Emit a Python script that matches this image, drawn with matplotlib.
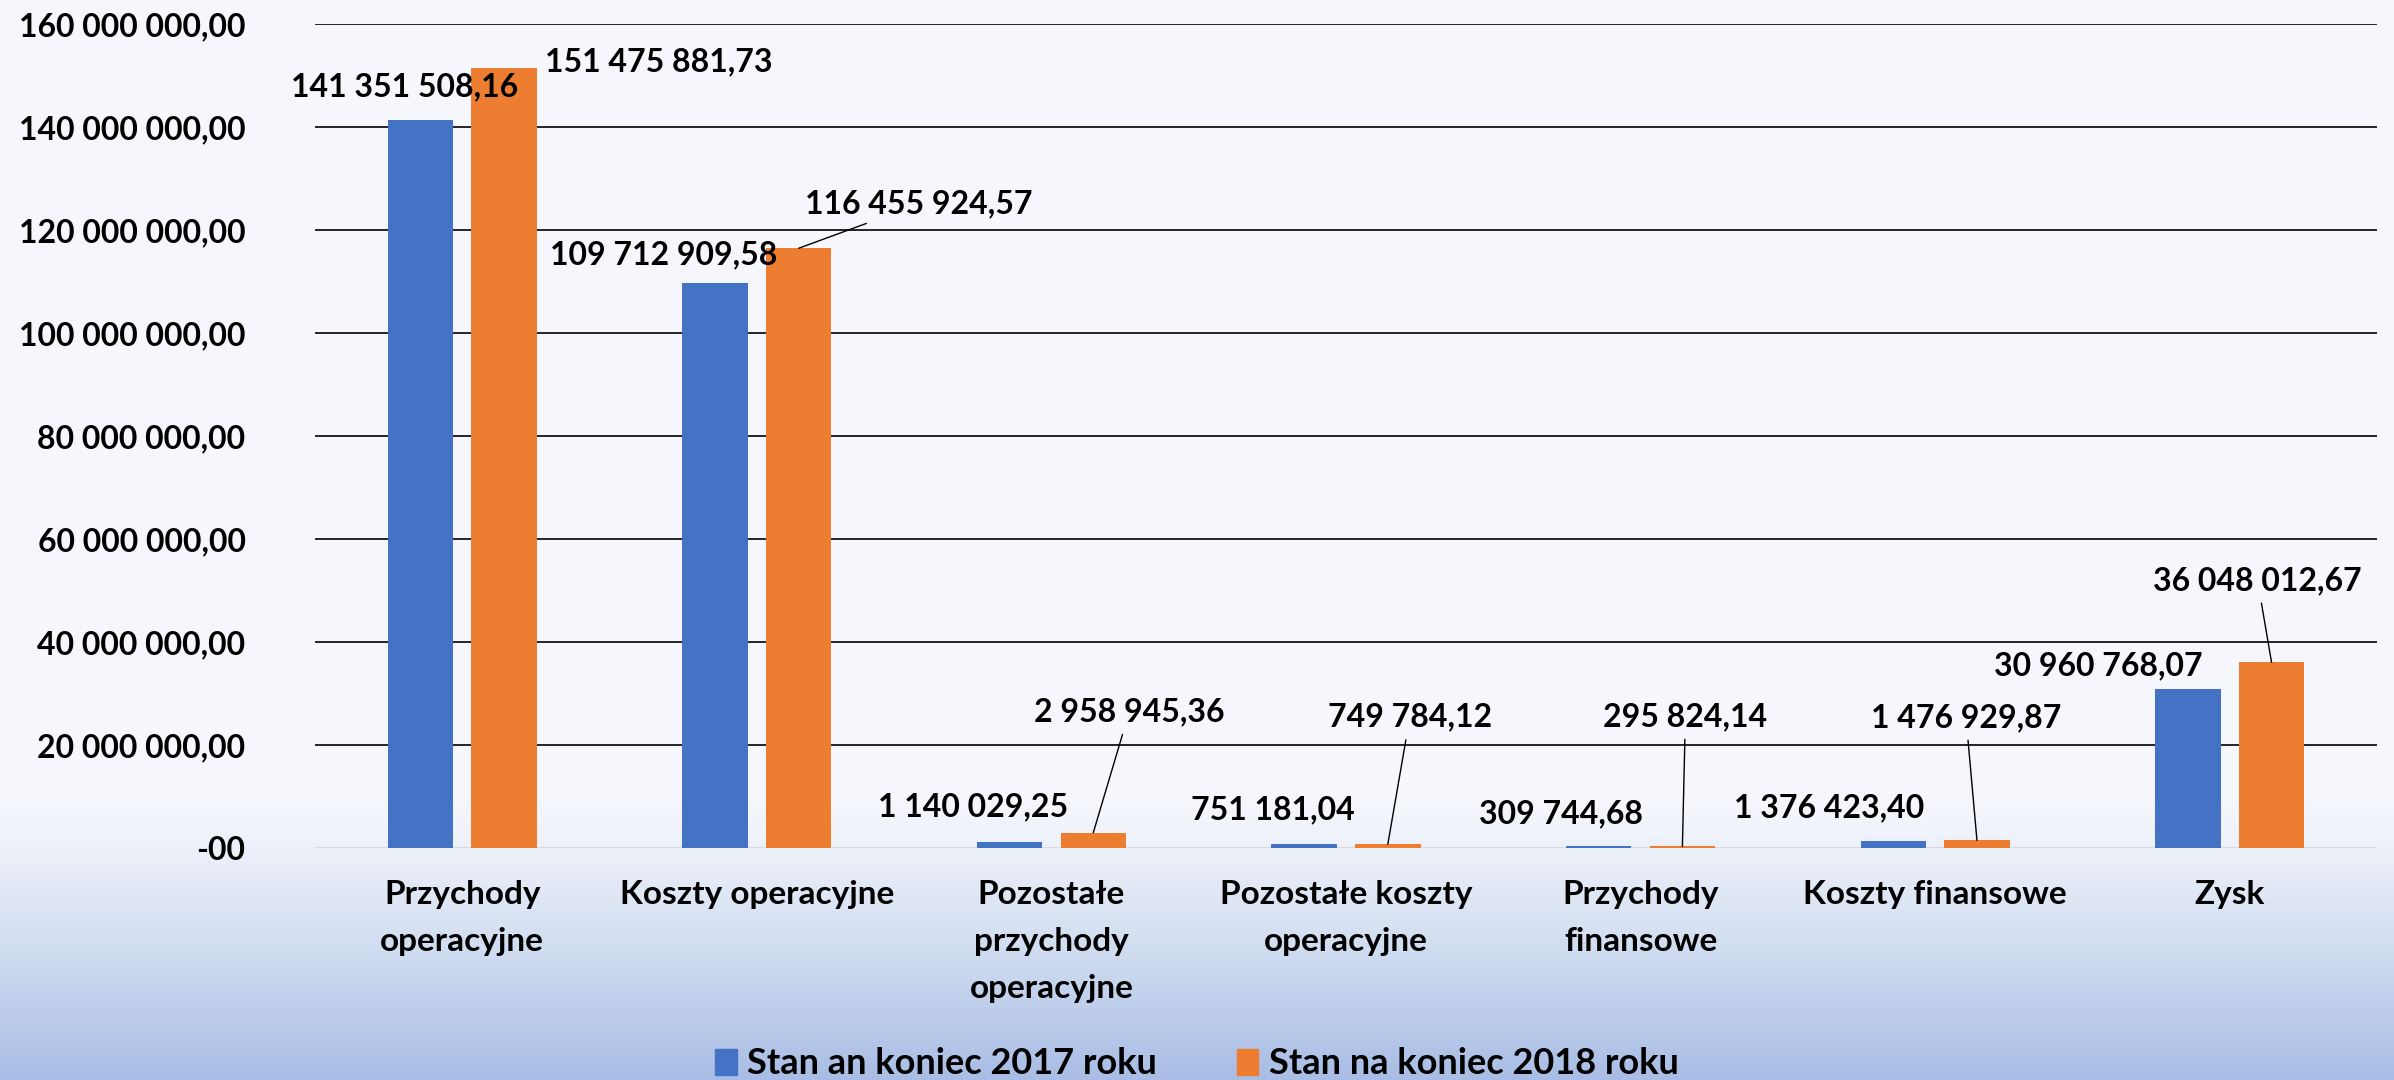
import numpy as np
import matplotlib
matplotlib.use("Agg")
import matplotlib.pyplot as plt
from matplotlib.patches import Patch

# ---------------- data ----------------
categories = [
    "Przychody\noperacyjne",
    "Koszty operacyjne",
    "Pozostałe\nprzychody\noperacyjne",
    "Pozostałe koszty\noperacyjne",
    "Przychody\nfinansowe",
    "Koszty finansowe",
    "Zysk",
]
series_names = ["Stan an koniec 2017 roku", "Stan na koniec 2018 roku"]
values_2017 = [141351508.16, 109712909.58, 1140029.25, 751181.04, 309744.68, 1376423.40, 30960768.07]
values_2018 = [151475881.73, 116455924.57, 2958945.36, 749784.12, 295824.14, 1476929.87, 36048012.67]
yticks = [0, 20e6, 40e6, 60e6, 80e6, 100e6, 120e6, 140e6, 160e6]
ytick_labels = ["-00", "20 000 000,00", "40 000 000,00", "60 000 000,00", "80 000 000,00",
                "100 000 000,00", "120 000 000,00", "140 000 000,00", "160 000 000,00"]

# ---------------- layout / style ----------------
W, H, DPI = 2394, 1080, 100
BLUE, ORANGE = "#4472C4", "#ED7D31"
FONT = "Lato"
FS = 23
FS_CAT = 24
FS_LEG = 26
# label offsets (pixels) from bar top-centre
off_2017 = [(-16, 33), (-51, 28), (-37, 35), (-31, 34), (-38, 33), (-64, 33), (-90, 23)]
off_2018 = [(155, 6), (120, 44), (36, 121), (22, 127), (3, 130), (-11, 123), (-14, 82)]
leader_2018 = [False, True, True, True, True, True, True]

plt.rcParams["font.family"] = [FONT, "DejaVu Sans"]
plt.rcParams["font.weight"] = "bold"

def fmt(v):
    return f"{v:,.2f}".replace(",", " ").replace(".", ",")

fig = plt.figure(figsize=(W / DPI, H / DPI), dpi=DPI)

# background gradient
bg = fig.add_axes([0, 0, 1, 1], zorder=-10)
ys = np.arange(H)
stops_y = [0, 800, 850, 950, 1080]
stops_c = np.array([[0xF6, 0xF8, 0xFC], [0xF5, 0xF7, 0xFC], [0xEC, 0xF0, 0xF9],
                    [0xD0, 0xDC, 0xF0], [0xA8, 0xBD, 0xE5]]) / 255.0
grad = np.stack([np.interp(ys, stops_y, stops_c[:, k]) for k in range(3)], axis=-1)
bg.imshow(grad[:, None, :], aspect="auto", extent=[0, 1, 0, 1], origin="upper")
bg.axis("off")

left, right, top, base = 315, 2377, 24, 848
ax = fig.add_axes([left / W, 1 - base / H, (right - left) / W, (base - top) / H])
ax.set_facecolor("none")

x = np.arange(len(categories))
bw, dx = 0.222, 0.142
ax.bar(x - dx, values_2017, bw, color=BLUE, zorder=3, label=series_names[0])
ax.bar(x + dx, values_2018, bw, color=ORANGE, zorder=3, label=series_names[1])

ax.set_xlim(-0.5, len(categories) - 0.5)
ax.set_ylim(0, 160e6)
ax.hlines([t for t in yticks if t > 0], -0.5, len(categories) - 0.5, color="black", lw=1.2, zorder=1)
ax.axhline(0, color="#D9D9D9", lw=2.0, zorder=2)
for s in ax.spines.values():
    s.set_visible(False)

ax.set_yticks(yticks)
ax.set_yticklabels(ytick_labels, fontsize=FS, fontweight="bold")
ax.tick_params(axis="y", length=0, pad=50)
ax.set_xticks(x)
ax.set_xticklabels(categories, fontsize=FS_CAT, fontweight="bold", linespacing=1.76)
ax.tick_params(axis="x", length=0, pad=23)

for i, v in enumerate(values_2017):
    ax.annotate(fmt(v), xy=(x[i] - dx, v), xytext=off_2017[i], textcoords="offset pixels",
                ha="center", va="center", fontsize=FS, fontweight="bold", zorder=5)
for i, v in enumerate(values_2018):
    ap = dict(arrowstyle="-", lw=1.0, color="black", shrinkA=4, shrinkB=0) if leader_2018[i] else None
    ax.annotate(fmt(v), xy=(x[i] + dx, v), xytext=off_2018[i], textcoords="offset pixels",
                ha="center", va="center", fontsize=FS, fontweight="bold", zorder=5,
                arrowprops=ap)

handles = [Patch(color=BLUE), Patch(color=ORANGE)]
fig.legend(handles, series_names, loc="center", bbox_to_anchor=(0.5, 1 - 1064 / H),
           ncol=2, frameon=False, handlelength=0.6, handleheight=0.7,
           handletextpad=0.3, columnspacing=2.2, borderpad=0, prop={"weight": "bold", "size": FS_LEG})

fig.savefig("out.png", dpi=DPI)
